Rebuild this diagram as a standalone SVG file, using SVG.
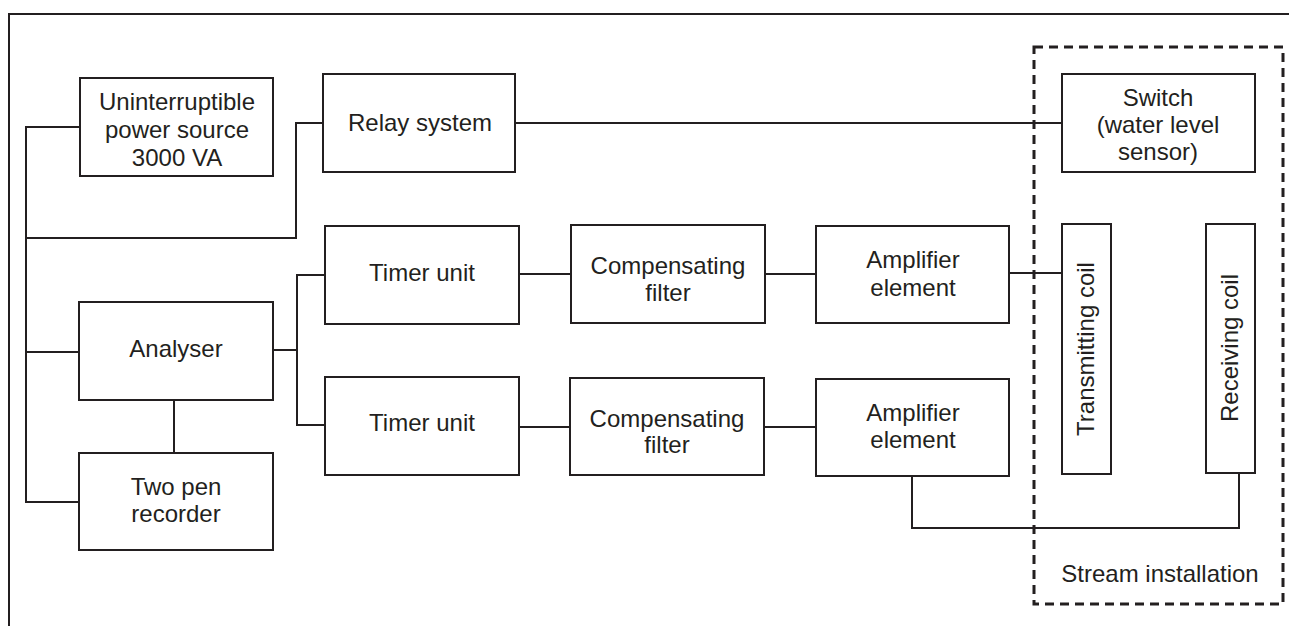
<svg xmlns="http://www.w3.org/2000/svg" width="1289" height="626" viewBox="0 0 1289 626">
<style>
.box{fill:#fff;stroke:#231f20;stroke-width:2}
.ln{fill:none;stroke:#231f20;stroke-width:2}
.t{font-family:"Liberation Sans",Arial,sans-serif;font-size:24px;fill:#231f20;text-anchor:middle}
</style>
<rect width="1289" height="626" fill="#fff"/>
<g id="frame"><path class="ln" d="M9,626 V14 H1289" stroke-width="2.5"/></g>
<g id="stream-installation">
<rect x="1034" y="47" width="249" height="557" fill="none" stroke="#231f20" stroke-width="3" stroke-dasharray="9,6"/>
<text class="t" x="1160" y="582">Stream installation</text>
</g>
<g id="connectors">
<path class="ln" d="M80,127 H26 V502 H79"/>
<path class="ln" d="M26,352 H79"/>
<path class="ln" d="M26,238 H296 V123 H323"/>
<path class="ln" d="M515,123 H1062"/>
<path class="ln" d="M174,400 V453"/>
<path class="ln" d="M273,350 H297"/>
<path class="ln" d="M325,275 H297 V425 H325"/>
<path class="ln" d="M519,274 H571"/>
<path class="ln" d="M519,427 H570"/>
<path class="ln" d="M765,274 H816"/>
<path class="ln" d="M764,427 H816"/>
<path class="ln" d="M1009,273 H1062"/>
<path class="ln" d="M912,476 V528 H1239 V473"/>
</g>
<g id="ups"><rect class="box" x="80" y="78" width="193" height="98"/>
<text class="t" x="177" y="110">Uninterruptible</text><text class="t" x="177" y="138">power source</text><text class="t" x="177" y="166">3000 VA</text></g>
<g id="relay"><rect class="box" x="323" y="74" width="192" height="98"/><text class="t" x="420" y="131">Relay system</text></g>
<g id="switch"><rect class="box" x="1062" y="74" width="193" height="98"/>
<text class="t" x="1158" y="106">Switch</text><text class="t" x="1158" y="133">(water level</text><text class="t" x="1158" y="160">sensor)</text></g>
<g id="analyser"><rect class="box" x="79" y="302" width="194" height="98"/><text class="t" x="176" y="357">Analyser</text></g>
<g id="recorder"><rect class="box" x="79" y="453" width="194" height="97"/>
<text class="t" x="176" y="495">Two pen</text><text class="t" x="176" y="522">recorder</text></g>
<g id="timer1"><rect class="box" x="325" y="226" width="194" height="98"/><text class="t" x="422" y="281">Timer unit</text></g>
<g id="timer2"><rect class="box" x="325" y="377" width="194" height="98"/><text class="t" x="422" y="431">Timer unit</text></g>
<g id="filter1"><rect class="box" x="571" y="225" width="194" height="98"/>
<text class="t" x="668" y="274">Compensating</text><text class="t" x="668" y="301">filter</text></g>
<g id="filter2"><rect class="box" x="570" y="378" width="194" height="97"/>
<text class="t" x="667" y="427">Compensating</text><text class="t" x="667" y="453">filter</text></g>
<g id="amp1"><rect class="box" x="816" y="226" width="193" height="97"/>
<text class="t" x="913" y="268">Amplifier</text><text class="t" x="913" y="296">element</text></g>
<g id="amp2"><rect class="box" x="816" y="379" width="193" height="97"/>
<text class="t" x="913" y="421">Amplifier</text><text class="t" x="913" y="448">element</text></g>
<g id="tx-coil"><rect class="box" x="1062" y="224" width="49" height="250"/>
<text class="t" transform="translate(1094,349) rotate(-90)">Transmitting coil</text></g>
<g id="rx-coil"><rect class="box" x="1206" y="224" width="49" height="249"/>
<text class="t" transform="translate(1238,348) rotate(-90)">Receiving coil</text></g>
</svg>
